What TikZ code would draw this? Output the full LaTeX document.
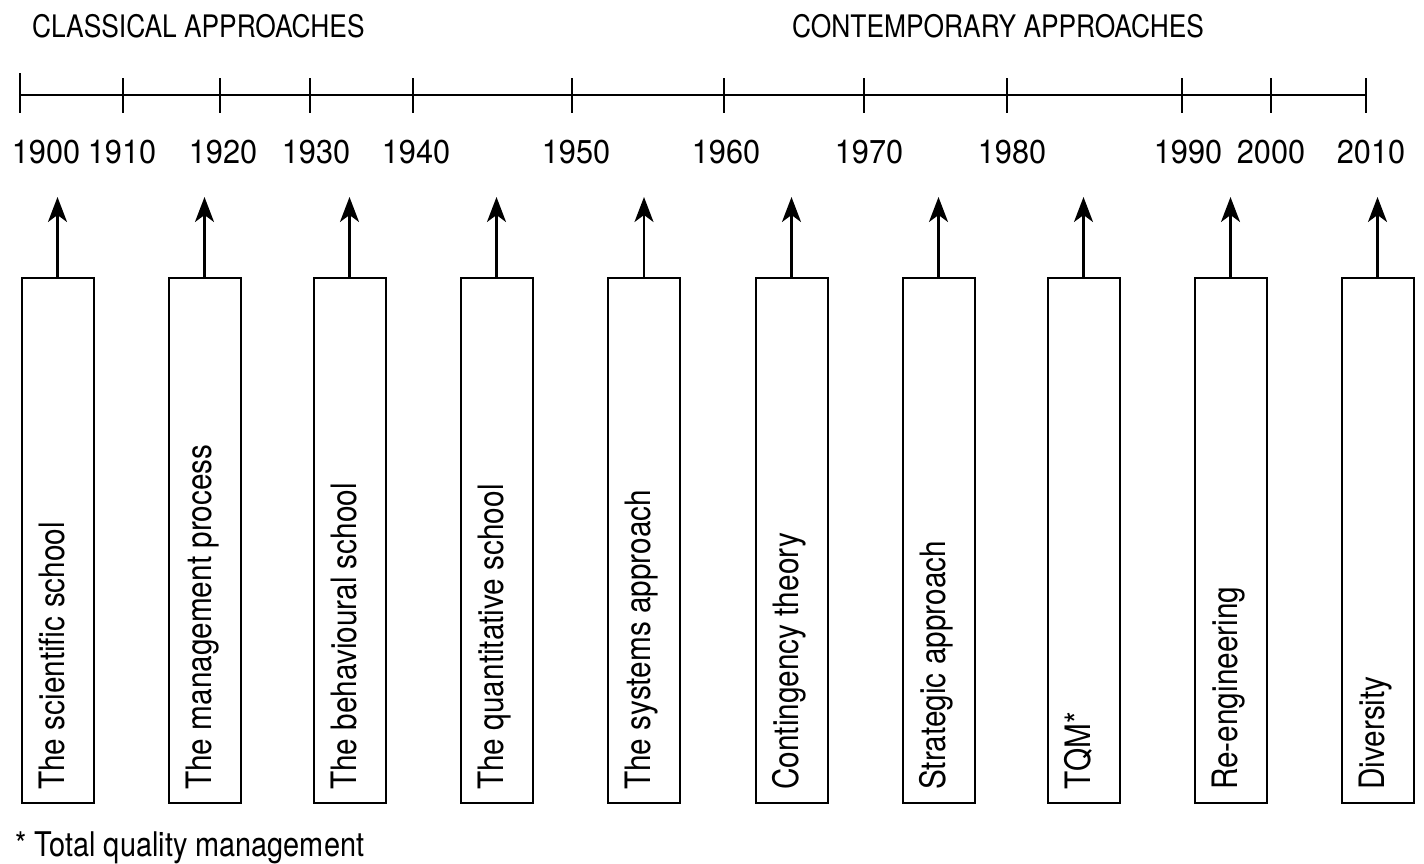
\documentclass[tikz,border=0pt]{standalone}
\usepackage{fontspec}
\setmainfont{TeX Gyre Heros}[FakeStretch=0.85]
\newfontfamily\yearfont{TeX Gyre Heros}[FakeStretch=0.93]
\usetikzlibrary{arrows.meta}
\tikzset{
	era/.style={font=\fontsize{31}{36}\selectfont, anchor=base west, inner sep=0},
	year/.style={font=\yearfont\fontsize{33}{40}\selectfont, anchor=base, inner sep=0},
	school/.style={draw, line width=2pt, minimum width=72pt, minimum height=525pt, inner sep=0},
	schooltext/.style={font=\fontsize{35}{42}\selectfont, rotate=90, anchor=base west, inner sep=0},
	rise/.style={line width=2.4pt, -{Stealth[length=25pt, width=19pt, inset=7pt]}},
	axis/.style={line width=2.2pt},
}

\begin{document}
\begin{tikzpicture}[x=1pt, y=-1pt]
			%%%%% START %%%%%
			\useasboundingbox (0, 0) rectangle (1424, 863);
			
			\node[era] (classical) at (32, 37) {CLASSICAL APPROACHES};
			\node[era] (contemporary) at (792, 37) {CONTEMPORARY APPROACHES};
			
			\draw[axis] (20, 95) -- (1366, 95);
			\draw[axis] (20, 73) -- (20, 113);
			\draw[axis] (123, 78) -- (123, 113);
			\draw[axis] (220, 78) -- (220, 113);
			\draw[axis] (310, 78) -- (310, 113);
			\draw[axis] (413, 78) -- (413, 113);
			\draw[axis] (572, 78) -- (572, 113);
			\draw[axis] (724, 78) -- (724, 113);
			\draw[axis] (864, 78) -- (864, 113);
			\draw[axis] (1007, 78) -- (1007, 113);
			\draw[axis] (1182, 78) -- (1182, 113);
			\draw[axis] (1271, 78) -- (1271, 113);
			\draw[axis] (1366, 78) -- (1366, 113);
			
			\node[year] (y1900) at (46, 163) {1900};
			\node[year] (y1910) at (122, 163) {1910};
			\node[year] (y1920) at (223, 163) {1920};
			\node[year] (y1930) at (316, 163) {1930};
			\node[year] (y1940) at (416, 163) {1940};
			\node[year] (y1950) at (576, 163) {1950};
			\node[year] (y1960) at (726, 163) {1960};
			\node[year] (y1970) at (869, 163) {1970};
			\node[year] (y1980) at (1012, 163) {1980};
			\node[year] (y1990) at (1188, 163) {1990};
			\node[year] (y2000) at (1271, 163) {2000};
			\node[year] (y2010) at (1371, 163) {2010};
			
			\node[school] (scientific) at (57.5, 540.5) {};
			\node[school] (process) at (204.5, 540.5) {};
			\node[school] (behavioural) at (349.5, 540.5) {};
			\node[school] (quantitative) at (496.5, 540.5) {};
			\node[school] (systems) at (644, 540.5) {};
			\node[school] (contingency) at (791.5, 540.5) {};
			\node[school] (strategic) at (938.5, 540.5) {};
			\node[school] (tqm) at (1083.5, 540.5) {};
			\node[school] (reeng) at (1230.5, 540.5) {};
			\node[school] (diversity) at (1377.5, 540.5) {};
			
			\node[schooltext] (scientifictext) at (64, 790) {The scientific school};
			\node[schooltext] (processtext) at (211, 790) {The management process};
			\node[schooltext] (behaviouraltext) at (356, 790) {The behavioural school};
			\node[schooltext] (quantitativetext) at (503, 790) {The quantitative school};
			\node[schooltext] (systemstext) at (650.5, 790) {The systems approach};
			\node[schooltext] (contingencytext) at (798, 790) {Contingency theory};
			\node[schooltext] (strategictext) at (945, 790) {Strategic approach};
			\node[schooltext] (tqmtext) at (1090, 790) {TQM*};
			\node[schooltext] (reengtext) at (1237, 790) {Re-engineering};
			\node[schooltext] (diversitytext) at (1384, 790) {Diversity};
			
			\coordinate (tip1) at (57.5, 197);
			\coordinate (tip2) at (204.5, 197);
			\coordinate (tip3) at (349.5, 197);
			\coordinate (tip4) at (496.5, 197);
			\coordinate (tip5) at (644, 197);
			\coordinate (tip6) at (791.5, 197);
			\coordinate (tip7) at (938.5, 197);
			\coordinate (tip8) at (1083.5, 197);
			\coordinate (tip9) at (1230.5, 197);
			\coordinate (tip10) at (1377.5, 197);
			\draw[rise] (scientific.north) -- (tip1);
			\draw[rise] (process.north) -- (tip2);
			\draw[rise] (behavioural.north) -- (tip3);
			\draw[rise] (quantitative.north) -- (tip4);
			\draw[rise] (systems.north) -- (tip5);
			\draw[rise] (contingency.north) -- (tip6);
			\draw[rise] (strategic.north) -- (tip7);
			\draw[rise] (tqm.north) -- (tip8);
			\draw[rise] (reeng.north) -- (tip9);
			\draw[rise] (diversity.north) -- (tip10);
			
			\node[font=\fontsize{34}{40}\selectfont, anchor=base west, inner sep=0] (footnote) at (15, 856) {* Total quality management};
			%%%%% END %%%%%
		\end{tikzpicture}
\end{document}
